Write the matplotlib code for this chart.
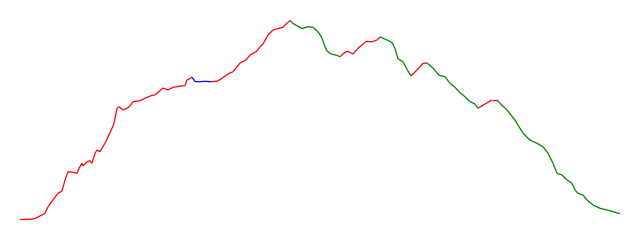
import numpy as np
import matplotlib
matplotlib.use('Agg')
import matplotlib.pyplot as plt
from matplotlib.collections import LineCollection

# ===== Data =====
days = [0, 10, 15, 20, 25, 28, 33, 38, 42, 45, 48, 53, 57, 59, 62, 63, 67, 70, 72, 75, 77, 80,
        82, 85, 87, 92, 94, 97, 99, 103, 107, 110, 113, 120, 125, 132, 135, 140, 143, 148, 153,
        165, 167, 172,
        175, 180, 185, 191,
        197, 202, 208, 213, 220, 226, 230, 237, 240, 243, 248, 253, 260, 263, 265, 270,
        273, 282, 288, 293, 298, 302, 305, 307, 311, 317, 320,
        325, 328, 333, 338, 342, 346, 352, 357, 360,
        367, 372, 375, 378, 383, 387, 391,
        397, 403, 407,
        413, 419, 425, 430, 435, 440, 445, 450, 455, 458,
        465, 472, 477,
        480, 487, 495, 503, 510, 517, 523, 528, 533, 537, 542, 547, 552, 555, 558, 563,
        567, 573, 580, 587, 593, 598, 600]

price = [0.5, 0.7, 1.5, 4, 6.7, 13.3, 20, 26.7, 29, 40, 48.3, 47.7, 46.7, 51.7, 56.7, 54, 58.3, 59.3, 56.7, 66.7, 70, 68.3,
         71.7, 76.7, 81, 91.7, 96.7, 111.7, 113.3, 110, 111.7, 114, 118.3, 119.3, 121.7, 124.7, 125, 129.3, 132, 130, 132.7,
         134.5, 140, 142.7,
         138.5, 138.3, 138.7, 138.3,
         138.7, 141.7, 146, 148.3, 157, 160, 165, 169, 173.3, 176, 185, 190, 192, 192.7, 195, 199.5,
         196.5, 191.5, 193.3, 192.7, 188.3, 182, 173.3, 169, 166, 164.7, 163.2,
         167.8, 168.7, 166, 171.7, 175, 178.5, 178.3, 180, 183,
         180, 177.5, 171.5, 161.2, 158.3, 150.7, 144,
         150, 156.7, 157,
         152, 144.7, 143.3, 136.7, 132.7, 127.3, 123.3, 118.3, 116, 111.7,
         116, 120, 120,
         116.7, 110, 100, 86.7, 80, 76.7, 73.3, 66.7, 56.7, 46.7, 45, 40, 36.7, 30, 26.7, 25,
         20, 15, 11.7, 10, 8.3, 6.7, 6.5]

# trend regimes: start day of each regime and its label
regime_start = [0, 172, 191, 270, 320, 360, 391, 407, 458, 477]
regime_label = ['up', 'flat', 'up', 'down', 'up', 'down', 'up', 'down', 'up', 'down']

COLORS = {'up': 'red', 'flat': 'blue', 'down': 'green'}

# ===== Build coloured segments =====
x = np.array(days, dtype=float)
y = np.array(price, dtype=float)
pts = np.column_stack([x, y])
segs = np.stack([pts[:-1], pts[1:]], axis=1)

seg_colors = []
for d in x[:-1]:
    k = np.searchsorted(regime_start, d, side='right') - 1
    seg_colors.append(COLORS[regime_label[k]])

# ===== Figure =====
fig = plt.figure(figsize=(6.4, 2.4), dpi=100)
ax = fig.add_axes([0, 0, 1, 1])
lc = LineCollection(segs, colors=seg_colors, linewidths=0.9)
ax.add_collection(lc)
ax.set_xlim(-20, 620)
ax.set_ylim(-20, 220)
ax.axis('off')

fig.savefig('out.png', dpi=100, facecolor='white')
plt.close(fig)
